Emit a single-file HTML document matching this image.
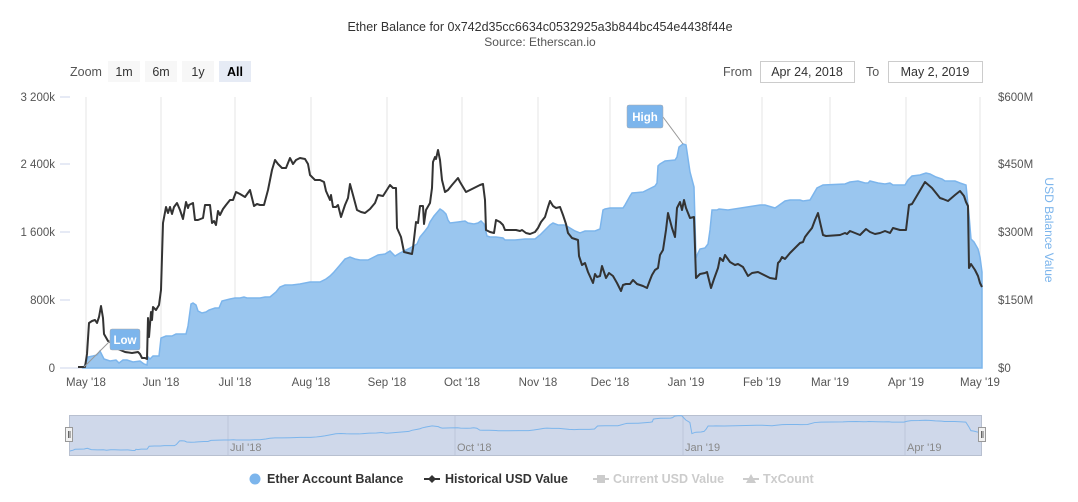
<!DOCTYPE html>
<html><head><meta charset="utf-8"><style>
body{margin:0;background:#fff;font-family:"Liberation Sans",sans-serif;}
svg text{font-family:"Liberation Sans",sans-serif;}
</style></head><body>
<svg width="1078" height="497" xmlns="http://www.w3.org/2000/svg">
<rect width="1078" height="497" fill="#fff"/>
<text x="540" y="31" text-anchor="middle" font-size="12.5" fill="#333">Ether Balance for 0x742d35cc6634c0532925a3b844bc454e4438f44e</text>
<text x="540" y="46" text-anchor="middle" font-size="12" fill="#555">Source: Etherscan.io</text>
<text x="70" y="76" font-size="12.5" fill="#555">Zoom</text>
<rect x="108" y="61" width="32" height="21" fill="#f7f7f7"/><text x="124" y="76" text-anchor="middle" font-size="12.5" fill="#333">1m</text>
<rect x="145" y="61" width="32" height="21" fill="#f7f7f7"/><text x="161" y="76" text-anchor="middle" font-size="12.5" fill="#333">6m</text>
<rect x="182" y="61" width="32" height="21" fill="#f7f7f7"/><text x="198" y="76" text-anchor="middle" font-size="12.5" fill="#333">1y</text>
<rect x="219" y="61" width="32" height="21" fill="#e6ebf5"/><text x="235" y="76" text-anchor="middle" font-size="12.5" font-weight="bold" fill="#000">All</text>
<text x="723" y="76" font-size="12.5" fill="#555">From</text>
<rect x="760.5" y="61.5" width="94" height="21" fill="#fff" stroke="#ccc"/><text x="807" y="76" text-anchor="middle" font-size="12.5" fill="#333">Apr 24, 2018</text>
<text x="866" y="76" font-size="12.5" fill="#555">To</text>
<rect x="888.5" y="61.5" width="94" height="21" fill="#fff" stroke="#ccc"/><text x="935" y="76" text-anchor="middle" font-size="12.5" fill="#333">May 2, 2019</text>
<g stroke="#e6e6e6" stroke-width="1">
<line x1="86" y1="97" x2="86" y2="368"/><line x1="161" y1="97" x2="161" y2="368"/><line x1="235" y1="97" x2="235" y2="368"/><line x1="311" y1="97" x2="311" y2="368"/><line x1="387" y1="97" x2="387" y2="368"/><line x1="462" y1="97" x2="462" y2="368"/><line x1="538" y1="97" x2="538" y2="368"/><line x1="610" y1="97" x2="610" y2="368"/><line x1="686" y1="97" x2="686" y2="368"/><line x1="762" y1="97" x2="762" y2="368"/><line x1="830" y1="97" x2="830" y2="368"/><line x1="906" y1="97" x2="906" y2="368"/><line x1="980" y1="97" x2="980" y2="368"/>
</g>
<g stroke="#ccd6eb"><line x1="60" y1="97" x2="70" y2="97"/><line x1="60" y1="164" x2="70" y2="164"/><line x1="60" y1="232" x2="70" y2="232"/><line x1="60" y1="300" x2="70" y2="300"/><line x1="60" y1="368" x2="982" y2="368"/></g>
<g font-size="11.5" fill="#555" text-anchor="end">
<text x="55" y="101">3 200k</text><text x="55" y="168">2 400k</text><text x="55" y="236">1 600k</text><text x="55" y="304">800k</text><text x="55" y="372">0</text></g>
<g font-size="11.5" fill="#555" text-anchor="start">
<text x="998" y="101">$600M</text><text x="998" y="168">$450M</text><text x="998" y="236">$300M</text><text x="998" y="304">$150M</text><text x="998" y="372">$0</text></g>
<text transform="translate(1045,230) rotate(90)" text-anchor="middle" font-size="12" fill="#7cb5ec">USD Balance Value</text>
<g font-size="11.5" fill="#555" text-anchor="middle">
<text x="86" y="386">May '18</text><text x="161" y="386">Jun '18</text><text x="235" y="386">Jul '18</text><text x="311" y="386">Aug '18</text><text x="387" y="386">Sep '18</text><text x="462" y="386">Oct '18</text><text x="538" y="386">Nov '18</text><text x="610" y="386">Dec '18</text><text x="686" y="386">Jan '19</text><text x="762" y="386">Feb '19</text><text x="830" y="386">Mar '19</text><text x="906" y="386">Apr '19</text><text x="980" y="386">May '19</text></g>
<polygon fill="#9ac6ef" stroke="#7cb5ec" stroke-width="1.5" points="83,368 86,363 88,357 93,356 97,355 100,351 104,359 110,361 116,360 119,363 123,360 127,360 133,362 140,361 144,364 147,365 148,357 150,359 153,356 159,356 161,338 166,336 172,336 176,334 186,334 188,326 191,304 193,303 196,305 198,311 202,313 206,312 209,310 215,308 219,308 222,301 230,299 235,298 240,298 244,297 247,298 252,298 260,298 265,297 270,297 276,292 280,287 285,285 292,285 300,284 310,282 320,282 326,279 330,276 334,272 340,265 345,259 350,257 355,259 360,260 368,260 372,258 378,255 385,254 390,251 395,256 400,253 404,251 410,248 417,244 420,237 425,231 428,227 430,222 434,216 440,209 443,211 446,214 448,220 450,223 458,222 465,221 468,223 474,224 478,223 481,221 484,224 487,236 490,237 496,237 503,238 505,240 508,240 515,240 525,239 535,239 540,235 545,230 550,225 553,223 558,225 565,225 570,228 575,231 580,233 585,231 590,231 595,231 600,229 603,210 605,209 610,208 623,208 625,205 630,196 632,193 643,192 655,186 657,183 658,166 660,164 665,161 675,160 677,157 679,147 683,144 686,145 690,172 694,187 696,258 698,253 700,249 705,248 708,244 710,230 712,210 717,210 719,209 728,210 760,205 765,205 775,208 778,206 785,201 790,200 800,200 803,201 810,200 817,188 823,185 845,184 850,182 858,181 865,183 868,183 870,181 878,183 885,184 890,183 893,185 905,185 908,180 912,176 920,175 923,174 926,173 930,174 936,177 942,179 945,181 955,181 960,183 966,185 969,215 971,239 974,242 978,249 980,257 982,272 982,368"/>
<polyline fill="none" stroke="#333" stroke-width="2" stroke-linejoin="round" points="78,367 85,367 87,354 89,323 92,321 95,320 97,323 99,317 101,306 103,318 104,334 108,341 112,343 118,349 125,352 132,353 138,352 140,354 142,358 145,358 147,359 148,318 149,337 151,312 152,320 153,307 156,310 159,305 161,290 163,223 166,207 168,213 170,207 172,214 174,207 177,203 180,210 183,219 186,202 188,208 189,205 193,203 195,220 198,220 203,218 205,205 210,205 212,223 214,221 216,225 218,211 220,215 223,209 226,205 230,200 233,200 236,192 240,194 245,197 250,190 254,206 257,204 260,205 264,205 268,190 272,170 275,160 278,164 282,168 286,168 290,158 293,164 296,160 300,158 305,159 308,164 310,175 315,180 320,180 324,182 326,191 330,200 331,195 333,207 336,207 338,205 341,217 345,205 348,198 350,184 353,195 357,210 361,212 365,213 370,209 375,203 378,195 383,196 390,185 393,188 396,188 397,228 401,237 404,252 408,253 412,254 413,248 416,222 418,223 420,206 423,206 424,224 426,210 430,203 432,188 433,162 435,157 436,159 438,150 440,160 442,180 445,192 448,190 452,185 458,178 460,182 466,192 480,185 483,184 485,200 486,230 490,232 494,233 496,220 500,222 503,225 505,230 508,230 516,230 520,231 522,230 526,233 530,234 535,232 538,228 541,222 545,217 548,207 550,201 553,206 556,208 560,207 563,215 566,224 568,233 572,238 578,240 579,256 582,265 585,263 588,272 593,283 595,274 597,277 600,276 602,266 606,278 609,273 613,276 617,283 621,291 623,285 626,284 630,284 633,280 637,284 643,286 647,288 650,280 652,275 655,270 658,268 660,255 663,250 666,230 668,213 672,228 675,237 677,208 680,202 682,210 684,200 686,208 690,218 694,217 696,278 700,274 705,273 707,272 711,288 714,279 718,268 720,258 723,261 725,255 730,262 735,265 738,264 743,267 748,276 752,273 758,272 770,278 776,279 778,263 780,261 782,257 785,259 790,253 795,248 800,243 803,242 805,237 808,233 812,228 815,220 818,213 820,222 823,235 826,236 840,235 845,233 847,234 850,231 855,233 860,235 866,229 870,232 875,234 880,233 885,231 890,233 893,228 900,230 906,230 909,205 912,204 925,182 932,188 940,198 943,199 948,201 955,195 960,191 964,196 966,202 968,206 969,268 971,264 975,270 978,276 980,283 982,287"/>
<line x1="84" y1="367" x2="110" y2="341" stroke="#999"/>
<rect x="110" y="329" width="30" height="21" rx="2" fill="#7cb5ec" stroke="#aaa" stroke-width="0.5"/>
<text x="125" y="344" text-anchor="middle" font-size="11.5" font-weight="bold" fill="#fff">Low</text>
<line x1="663" y1="117" x2="683" y2="144" stroke="#999"/>
<rect x="627" y="105" width="36" height="23" rx="2" fill="#7cb5ec" stroke="#aaa" stroke-width="0.5"/>
<text x="645" y="121" text-anchor="middle" font-size="11.5" font-weight="bold" fill="#fff">High</text>
<rect x="69.5" y="415.5" width="912" height="40" fill="#cfd8ea" stroke="#b8c0d0"/>
<g stroke="#bcc6da"><line x1="228" y1="416" x2="228" y2="455"/><line x1="455" y1="416" x2="455" y2="455"/><line x1="683" y1="416" x2="683" y2="455"/><line x1="905" y1="416" x2="905" y2="455"/></g>
<g font-size="11" fill="#888"><text x="230" y="451">Jul '18</text><text x="457" y="451">Oct '18</text><text x="685" y="451">Jan '19</text><text x="907" y="451">Apr '19</text></g>
<g transform="translate(70,451) scale(1.0145,0.158) translate(-83,-368)">
<polyline fill="none" stroke="#7cb5ec" stroke-width="1" vector-effect="non-scaling-stroke" points="83,368 86,363 88,357 93,356 97,355 100,351 104,359 110,361 116,360 119,363 123,360 127,360 133,362 140,361 144,364 147,365 148,357 150,359 153,356 159,356 161,338 166,336 172,336 176,334 186,334 188,326 191,304 193,303 196,305 198,311 202,313 206,312 209,310 215,308 219,308 222,301 230,299 235,298 240,298 244,297 247,298 252,298 260,298 265,297 270,297 276,292 280,287 285,285 292,285 300,284 310,282 320,282 326,279 330,276 334,272 340,265 345,259 350,257 355,259 360,260 368,260 372,258 378,255 385,254 390,251 395,256 400,253 404,251 410,248 417,244 420,237 425,231 428,227 430,222 434,216 440,209 443,211 446,214 448,220 450,223 458,222 465,221 468,223 474,224 478,223 481,221 484,224 487,236 490,237 496,237 503,238 505,240 508,240 515,240 525,239 535,239 540,235 545,230 550,225 553,223 558,225 565,225 570,228 575,231 580,233 585,231 590,231 595,231 600,229 603,210 605,209 610,208 623,208 625,205 630,196 632,193 643,192 655,186 657,183 658,166 660,164 665,161 675,160 677,157 679,147 683,144 686,145 690,172 694,187 696,258 698,253 700,249 705,248 708,244 710,230 712,210 717,210 719,209 728,210 760,205 765,205 775,208 778,206 785,201 790,200 800,200 803,201 810,200 817,188 823,185 845,184 850,182 858,181 865,183 868,183 870,181 878,183 885,184 890,183 893,185 905,185 908,180 912,176 920,175 923,174 926,173 930,174 936,177 942,179 945,181 955,181 960,183 966,185 969,215 971,239 974,242 978,249 980,257 982,272"/></g>
<rect x="65.5" y="427.5" width="7" height="14" fill="#f2f2f2" stroke="#999"/><line x1="68.5" y1="431" x2="68.5" y2="438" stroke="#666"/><line x1="70" y1="431" x2="70" y2="438" stroke="#666"/>
<rect x="978.5" y="427.5" width="7" height="14" fill="#f2f2f2" stroke="#999"/><line x1="981.5" y1="431" x2="981.5" y2="438" stroke="#666"/><line x1="983" y1="431" x2="983" y2="438" stroke="#666"/>
<circle cx="255" cy="479" r="5.5" fill="#7cb5ec"/>
<text x="267" y="483" font-size="12.5" font-weight="bold" fill="#333">Ether Account Balance</text>
<line x1="424" y1="479" x2="440" y2="479" stroke="#333" stroke-width="2"/><path d="M432 475 L436 479 L432 483 L428 479Z" fill="#333"/>
<text x="445" y="483" font-size="12.5" font-weight="bold" fill="#333">Historical USD Value</text>
<line x1="593" y1="479" x2="609" y2="479" stroke="#ccc" stroke-width="2"/><rect x="597" y="475" width="8" height="8" fill="#ccc"/>
<text x="613" y="483" font-size="12.5" font-weight="bold" fill="#ccc">Current USD Value</text>
<line x1="743" y1="479" x2="759" y2="479" stroke="#ccc" stroke-width="2"/><path d="M751 474 L756 483 L746 483Z" fill="#ccc"/>
<text x="763" y="483" font-size="12.5" font-weight="bold" fill="#ccc">TxCount</text>
</svg>
</body></html>
